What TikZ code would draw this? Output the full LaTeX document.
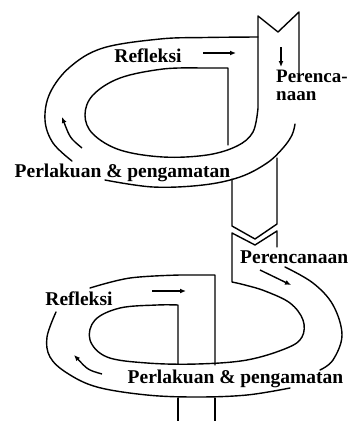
\documentclass[tikz,border=0pt]{standalone}
\usepackage{fontspec}
\setmainfont{Liberation Serif}
\usetikzlibrary{arrows.meta}
\begin{document}
\begin{tikzpicture}[x=1pt,y=-1pt,
  band/.style={line width=1.4pt, line join=round, line cap=round},
  flow/.style={line width=1.4pt, -{Latex[length=6pt,width=5pt]}},
  lbl/.style={font=\bfseries\fontsize{19.5}{20}\selectfont, inner sep=0pt, anchor=base}]
\useasboundingbox (0,0) rectangle (352,421);

% ---------- upper cycle ----------
% outer edge of the band
\draw[band] plot[smooth, tension=0.6] coordinates
  {(258,37) (205,37.5) (160,39) (103,48) (70,67) (50,93) (45,120) (53,143) (72,161)};
% inner edge, joined to the left side of the notched tube
\draw[band] (228,145) -- (228,68) -- (200,68)
  plot[smooth, tension=0.6] coordinates
  {(200,68) (163,69) (120,78) (93,95) (85,115) (93,134) (120,150) (163,157) (207,155) (237,146) (253,132) (258,108)}
  -- (258,16) -- (278,32) -- (299,12) -- (299,80);
% lower outer edge
\draw[band] plot[smooth, tension=0.6] coordinates
  {(105,180) (153,187) (203,185) (240,177) (267,163) (283,148) (292,135) (295,124)};

% ---------- connecting tube ----------
\draw[band] (232,179) -- (232,226) -- (255,239) -- (277,224) -- (277,158);
\draw[band] (277,247) -- (277,231) -- (255,245) -- (232,233) -- (232,282)
  plot[smooth, tension=0.6] coordinates
  {(232,282) (245,285) (265,291) (290,303) (303,320) (302,337) (287,348) (247,360) (197,364) (147,363) (107,357) (90,340) (95,320) (120,308) (157,305) (178,305)}
  -- (178,364);

% ---------- lower cycle ----------
\draw[band] (215,365) -- (215,275) -- (180,275)
  plot[smooth, tension=0.6] coordinates {(180,275) (130,278) (90,288)};
\draw[band] plot[smooth, tension=0.6] coordinates
  {(56,312) (47,337) (50,357) (67,373) (97,387) (147,395) (197,397) (247,395) (290,388)};
\draw[band] plot[smooth, tension=0.6] coordinates
  {(285,267) (313,283) (333,305) (342,335) (333,360) (320,370)};
\draw[band] (178,398) -- (178,421);
\draw[band] (215,398) -- (215,421);

% ---------- labels ----------
\node[lbl] (r1) at (148,62) {Refleksi};
\node[lbl] (p1) at (122.5,177) {Perlakuan \& pengamatan};
\node[lbl, anchor=base west, align=left,
      font=\bfseries\fontsize{19}{17.5}\selectfont] (c1) at (276,100) {Perenca-\\naan};
\node[lbl, anchor=base west] (c2) at (240,263) {Perencanaan};
\node[lbl] (r2) at (79,305) {Refleksi};
\node[lbl] (p2) at (235.5,383) {Perlakuan \& pengamatan};

% ---------- direction arrows ----------
\coordinate (a1s) at (203,53); \coordinate (a1e) at (236,53);
\coordinate (a2s) at (281,47); \coordinate (a2e) at (281,67);
\coordinate (a3s) at (82,148); \coordinate (a3e) at (62,117);
\coordinate (b1s) at (260,270); \coordinate (b1e) at (291,285);
\coordinate (b2s) at (152,291); \coordinate (b2e) at (186,291);
\coordinate (b3s) at (102,374); \coordinate (b3e) at (74,355);
\draw[flow] (a1s) -- (a1e);
\draw[flow] (a2s) -- (a2e);
\draw[flow] (a3s) .. controls (70,138) .. (a3e);
\draw[flow] (b1s) -- (b1e);
\draw[flow] (b2s) -- (b2e);
\draw[flow] (b3s) .. controls (88,370) .. (b3e);
\end{tikzpicture}
\end{document}
